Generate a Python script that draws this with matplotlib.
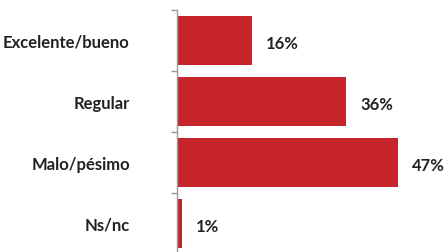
import matplotlib
matplotlib.use("Agg")
import matplotlib.pyplot as plt

categories = ["Excelente/bueno", "Regular", "Malo/pésimo", "Ns/nc"]
values = [16, 36, 47, 1]
labels = ["16%", "36%", "47%", "1%"]

plt.rcParams['font.family'] = ['Lato', 'DejaVu Sans']

W, H = 445, 253
fig = plt.figure(figsize=(W / 100, H / 100), dpi=100)
left_px, top_px, bottom_px = 177, 11, 255
ax = fig.add_axes([left_px / W, 1 - bottom_px / H, (W - left_px) / W, (bottom_px - top_px) / H])

ypos = list(range(len(categories)))
ax.barh(ypos, values, height=0.8, color='#C7242B')
ax.set_ylim(len(categories) - 0.5, -0.5)
px_per_unit = 4.7
ax.set_xlim(0, (W - left_px) / px_per_unit)

for y, v, t in zip(ypos, values, labels):
    ax.annotate(t, (v, y), xytext=(10, -2), textcoords='offset points',
                va='center', ha='left', fontsize=12, fontweight='bold', color='#222222')

ax.set_yticks(ypos)
ax.set_yticklabels(categories, fontsize=12, fontweight='bold', color='#222222')
ax.tick_params(axis='y', which='major', length=0, pad=34)
ax.set_yticks([i - 0.5 for i in range(len(categories) + 1)], minor=True)
ax.tick_params(axis='y', which='minor', length=4, color='#999999', width=1)
ax.set_xticks([])
for s in ['top', 'right', 'bottom']:
    ax.spines[s].set_visible(False)
ax.spines['left'].set_color('#999999')
ax.spines['left'].set_linewidth(1)

fig.savefig("out.png", dpi=100)
